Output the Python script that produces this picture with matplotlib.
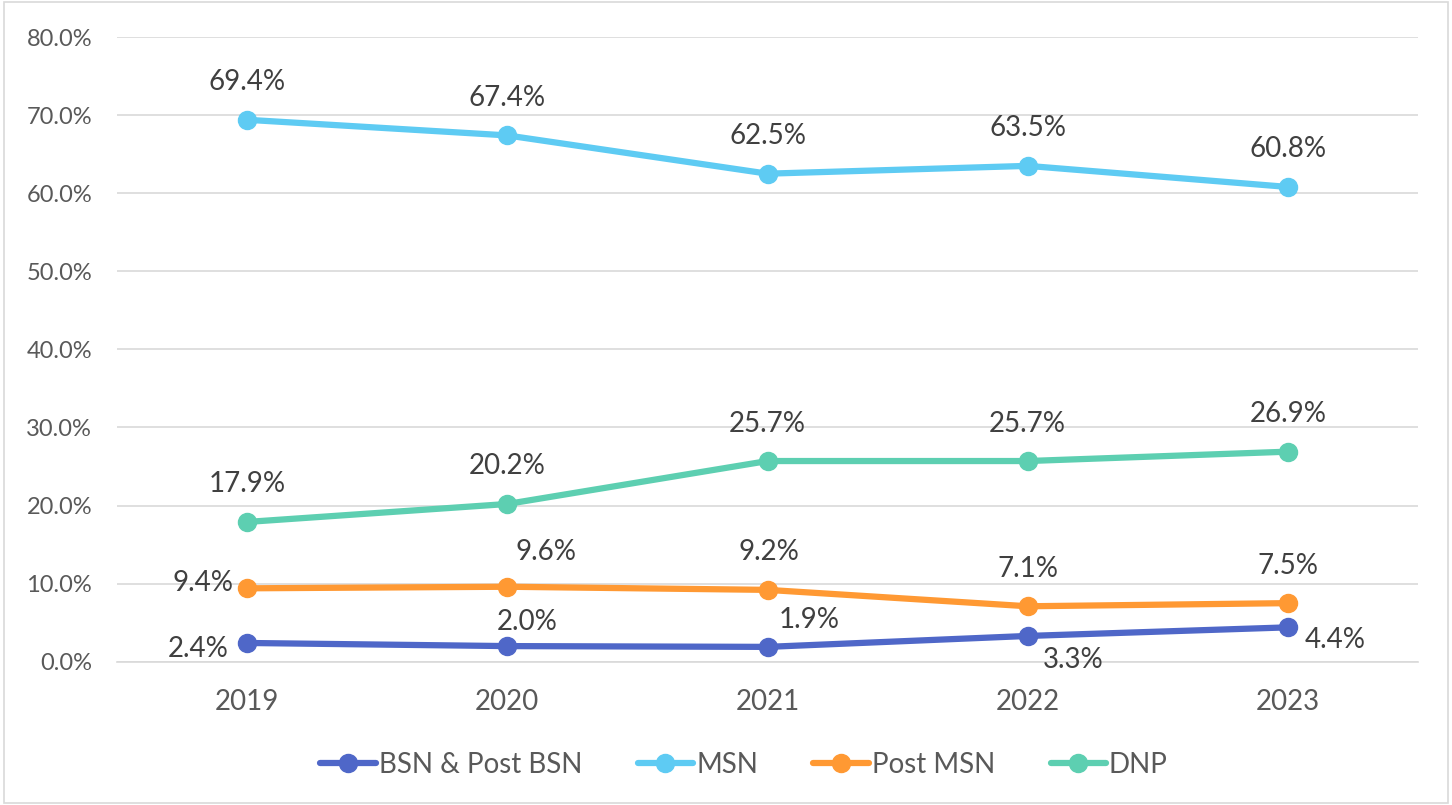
import numpy as np
import matplotlib.pyplot as plt
from matplotlib.patches import Rectangle

plt.rcParams['font.family'] = ['Lato', 'DejaVu Sans']

years = ['2019', '2020', '2021', '2022', '2023']
bsn = [2.4, 2.0, 1.9, 3.3, 4.4]
msn = [69.4, 67.4, 62.5, 63.5, 60.8]
post_msn = [9.4, 9.6, 9.2, 7.1, 7.5]
dnp = [17.9, 20.2, 25.7, 25.7, 26.9]

series = [
    ('BSN & Post BSN', bsn, '#4F67C8'),
    ('MSN', msn, '#5ECBF3'),
    ('Post MSN', post_msn, '#FF9933'),
    ('DNP', dnp, '#5DCFB1'),
]

# label offsets (points) per series, per point
offs = {
    'BSN & Post BSN': [(-35, -4), (14, 17), (30, 19), (33, -17), (34, -9)],
    'MSN': [(0, 27), (0, 27), (0, 27), (0, 27), (0, 27)],
    'Post MSN': [(-32, 4), (28, 25), (1, 27), (0, 27), (0, 27)],
    'DNP': [(0, 27), (0, 27), (0, 27), (0, 27), (0, 27)],
}

fig = plt.figure(figsize=(14.52, 8.05), dpi=100)
ax = fig.add_axes([0.0806, 0.178, 0.896, 0.776])
fig.patches.append(Rectangle((0.003, 0.003), 0.994, 0.994, transform=fig.transFigure,
                             fill=False, edgecolor='#D9D9D9', linewidth=1.2))

x = np.arange(len(years))
for name, vals, col in series:
    ax.plot(x, vals, color=col, lw=4.5, marker='o', ms=13, label=name,
            solid_capstyle='round', zorder=3)
    for i, v in enumerate(vals):
        dx, dy = offs[name][i]
        ax.annotate(f'{v:.1f}%', (x[i], v), xytext=(dx, dy), textcoords='offset points',
                    ha='center', va='center', fontsize=20, color='#404040', zorder=4)

ax.set_xlim(-0.5, 4.5)
ax.set_ylim(0, 80)
ax.set_yticks(np.arange(0, 81, 10))
ax.set_yticklabels([f'{t:.1f}%' for t in np.arange(0, 81, 10)])
ax.set_xticks(x)
ax.set_xticklabels(years)
ax.grid(axis='y', color='#D9D9D9', lw=1.2)
ax.set_axisbelow(True)
for s in ax.spines.values():
    s.set_visible(False)
ax.spines['bottom'].set_visible(True)
ax.spines['bottom'].set_color('#D9D9D9')
ax.spines['bottom'].set_linewidth(1.2)
ax.tick_params(axis='y', length=0, labelsize=17, labelcolor='#595959', pad=18)
ax.tick_params(axis='x', length=0, labelsize=20, labelcolor='#595959', pad=20)

ax.legend(loc='center', bbox_to_anchor=(0.482, -0.165), ncol=4, frameon=False,
          fontsize=20, labelcolor='#595959', handlelength=2.0, handletextpad=0.1,
          columnspacing=2.0)

fig.savefig('out.png', dpi=100)
